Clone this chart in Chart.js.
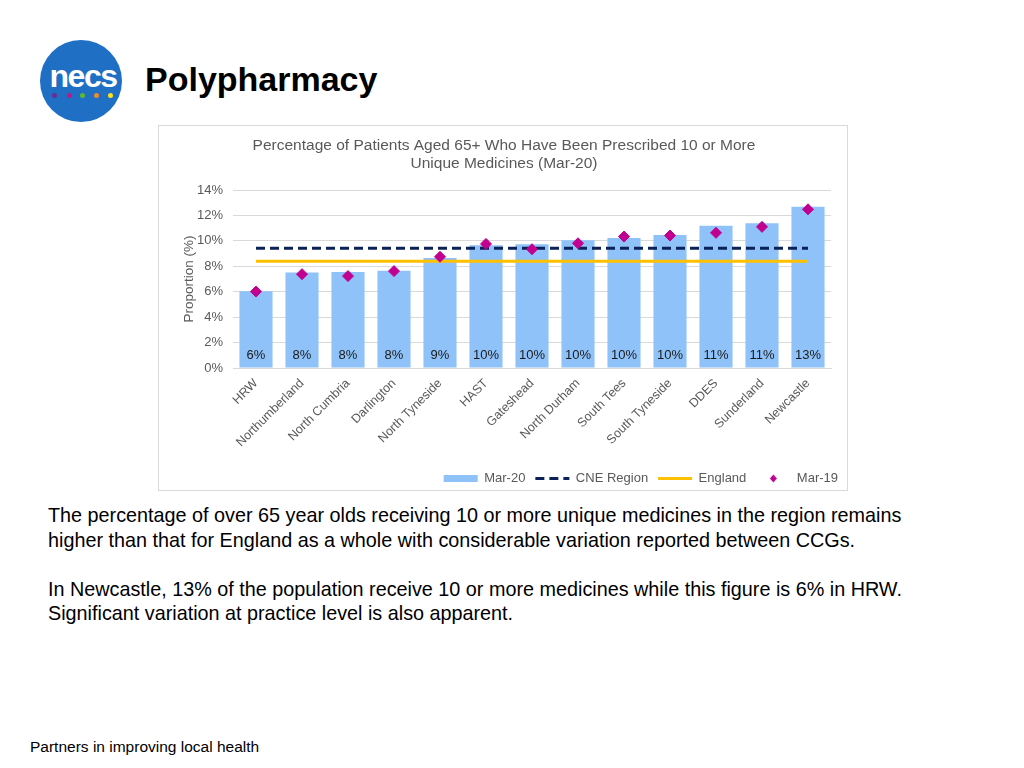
<!DOCTYPE html>
<html>
<head>
<meta charset="utf-8">
<title>Polypharmacy</title>
<script src="https://cdn.jsdelivr.net/npm/chart.js@4.4.1/dist/chart.umd.min.js"></script>
<style>
  html, body { margin: 0; padding: 0; background: #fff; }
  body { width: 1024px; height: 768px; position: relative; overflow: hidden; font-family: "Liberation Sans", Arial, sans-serif; }
  .logo { position: absolute; left: 40px; top: 40px; width: 82px; height: 82px; border-radius: 50%; background: #1f6fc5; }
  .logo span { position: absolute; left: 2px; width: 82px; top: 18px; text-align: center; color: #fff; font: bold 32px "Liberation Sans", Arial, sans-serif; letter-spacing: -1.5px; }
  .dot { position: absolute; top: 53px; width: 5px; height: 5px; border-radius: 50%; }
  h1 { position: absolute; left: 145px; top: 60px; margin: 0; font: bold 34px "Liberation Sans", Arial, sans-serif; color: #000; }
  .box { position: absolute; left: 158px; top: 125px; width: 690px; height: 366px; border: 1px solid #d9d9d9; box-sizing: border-box; }
  .body-text { position: absolute; left: 48px; top: 503px; font-size: 19.8px; line-height: 24.5px; color: #000; margin: 0; }
  .foot { position: absolute; left: 30px; top: 738px; font-size: 15.5px; color: #000; }
</style>
</head>
<body>
<div class="logo"><span>necs</span>
  <div class="dot" style="left:12px;background:#6b2d91"></div>
  <div class="dot" style="left:27px;background:#c2178b"></div>
  <div class="dot" style="left:40px;background:#5db832"></div>
  <div class="dot" style="left:54px;background:#ef8a2e"></div>
  <div class="dot" style="left:68px;background:#ffe11a"></div>
</div>
<h1>Polypharmacy</h1>
<div class="box"><canvas id="chart"></canvas></div>
<p class="body-text">The percentage of over 65 year olds receiving 10 or more unique medicines in the region remains<br>higher than that for England as a whole with considerable variation reported between CCGs.<br><br>In Newcastle, 13% of the population receive 10 or more medicines while this figure is 6% in HRW.<br>Significant variation at practice level is also apparent.</p>
<div class="foot">Partners in improving local health</div>

<script>
// Data
const categories = ['HRW', 'Northumberland', 'North Cumbria', 'Darlington', 'North Tyneside', 'HAST',
  'Gateshead', 'North Durham', 'South Tees', 'South Tyneside', 'DDES', 'Sunderland', 'Newcastle'];
const mar20 = [6.04, 7.52, 7.55, 7.65, 8.65, 9.65, 9.73, 10.05, 10.23, 10.47, 11.18, 11.39, 12.68];
const mar19 = [6.01, 7.38, 7.23, 7.62, 8.75, 9.76, 9.34, 9.81, 10.34, 10.42, 10.63, 11.10, 12.48];
const cneRegion = 9.41;
const england = 8.39;
const yTicks = [0, 2, 4, 6, 8, 10, 12, 14];

// Colours
const C_BAR = '#8ec2f9';
const C_CNE = '#0b2258';
const C_ENG = '#ffc000';
const C_DIA = '#c2008f';
const C_TXT = '#595959';
const FONT = '"Liberation Sans", Arial, sans-serif';

// small diamond for the legend
const dia = document.createElement('canvas');
dia.width = 9; dia.height = 9;
const dctx = dia.getContext('2d');
dctx.fillStyle = C_DIA;
dctx.beginPath();
dctx.moveTo(4.5, 0.5); dctx.lineTo(8, 4.5); dctx.lineTo(4.5, 8.5); dctx.lineTo(1, 4.5);
dctx.closePath(); dctx.fill();

// value labels at the foot of each bar
const barLabels = {
  id: 'barLabels',
  afterDatasetsDraw(chart) {
    const ctx = chart.ctx;
    const meta = chart.getDatasetMeta(0);
    ctx.save();
    ctx.font = '13px ' + FONT;
    ctx.fillStyle = '#1a1a1a';
    ctx.textAlign = 'center';
    ctx.textBaseline = 'middle';
    meta.data.forEach((bar, i) => {
      ctx.fillText(Math.round(mar20[i]) + '%', bar.x, chart.chartArea.bottom - 13);
    });
    ctx.restore();
  }
};

// legend sits further right than the plot edge, like the Excel original
const legendShift = {
  id: 'legendShift',
  afterLayout(chart) {
    chart.legend.left += 17;
    chart.legend.right += 17;
  }
};

new Chart(document.getElementById('chart'), {
  type: 'bar',
  data: {
    labels: categories,
    datasets: [
      { label: 'Mar-20', data: mar20, backgroundColor: C_BAR, order: 4,
        categoryPercentage: 0.8, barPercentage: 0.9 },
      { type: 'line', label: 'CNE Region', data: categories.map(() => cneRegion), borderColor: C_CNE,
        borderWidth: 3, borderDash: [9, 5], pointRadius: 0, fill: false, order: 2 },
      { type: 'line', label: 'England', data: categories.map(() => england), borderColor: C_ENG,
        borderWidth: 3, pointRadius: 0, fill: false, order: 3 },
      { type: 'line', label: 'Mar-19', data: mar19, showLine: false, pointStyle: 'rectRot',
        pointRadius: 5.5, backgroundColor: C_DIA, borderColor: C_DIA, order: 1 }
    ]
  },
  options: {
    responsive: true,
    maintainAspectRatio: false,
    animation: false,
    layout: { padding: { left: 18, right: 16, bottom: -5 } },
    plugins: {
      title: {
        display: true,
        text: ['Percentage of Patients Aged 65+ Who Have Been Prescribed 10 or More', 'Unique Medicines (Mar-20)'],
        color: C_TXT,
        font: { family: FONT, size: 15.5, weight: 'normal', lineHeight: '18px' },
        padding: { top: 11, bottom: 17 }
      },
      legend: {
        position: 'bottom',
        align: 'end',
        labels: {
          color: C_TXT,
          font: { family: FONT, size: 13 },
          usePointStyle: true,
          pointStyleWidth: 34,
          boxHeight: 7,
          padding: 10,
          generateLabels: (chart) => chart.data.datasets.map((ds, i) => ({
            text: ds.label,
            datasetIndex: i,
            fillStyle: i === 0 ? C_BAR : (i === 3 ? C_DIA : 'transparent'),
            strokeStyle: i === 0 ? C_BAR : ds.borderColor,
            lineWidth: i === 0 ? 0 : 3,
            lineDash: ds.borderDash || [],
            pointStyle: i === 0 ? 'rect' : (i === 3 ? dia : 'line'),
            fontColor: C_TXT,
            hidden: false
          }))
        }
      },
      tooltip: { enabled: false }
    },
    scales: {
      x: {
        afterFit: (s) => { s.height = 94; },
        grid: { display: false },
        border: { color: '#d9d9d9' },
        ticks: { color: C_TXT, font: { family: FONT, size: 12.5 }, minRotation: 45, maxRotation: 45, padding: 0 }
      },
      y: {
        min: 0, max: 14,
        afterFit: (s) => { s.width = 56; },
        afterBuildTicks: (s) => { s.ticks = yTicks.map(v => ({ value: v })); },
        grid: { color: '#d9d9d9', drawTicks: false },
        border: { display: false },
        ticks: { color: C_TXT, font: { family: FONT, size: 13 }, padding: 10, callback: (v) => v + '%' },
        title: { display: true, text: 'Proportion (%)', color: C_TXT, font: { family: FONT, size: 13.5 } }
      }
    }
  },
  plugins: [barLabels, legendShift]
});
</script>
</body>
</html>
